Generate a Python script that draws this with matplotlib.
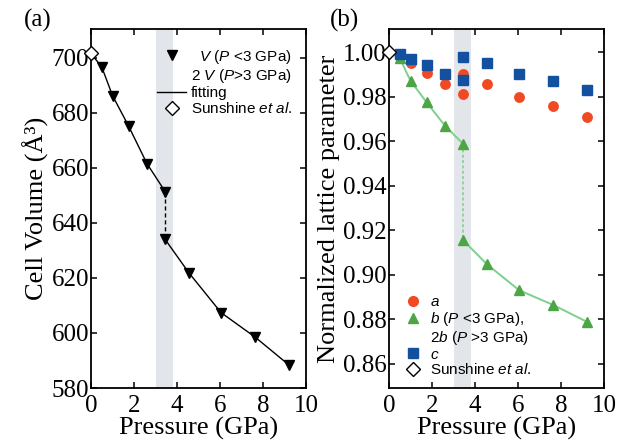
import matplotlib
matplotlib.use("Agg")
import matplotlib.pyplot as plt
from matplotlib.lines import Line2D

# ---------------- data ----------------
P_low = [0.5, 1.0, 1.75, 2.6, 3.45]
P_high = [3.45, 4.55, 6.05, 7.65, 9.2]
V_low = [696.7, 686.3, 675.2, 661.6, 651.4]
V_high = [634.0, 621.9, 607.4, 598.4, 588.4]
sun_P = [0.0]
sun_V = [701.6]
sun_norm = [1.0]

P_all = [0.5, 1.0, 1.75, 2.6, 3.45, 3.45, 4.55, 6.05, 7.65, 9.2]
a_norm = [0.9985, 0.9954, 0.9905, 0.9857, 0.9813, 0.9902, 0.9857, 0.9797, 0.9757, 0.9711]
c_norm = [0.9992, 0.9972, 0.9943, 0.9902, 0.9875, 0.9981, 0.9950, 0.9902, 0.9869, 0.9830]
b_low = [0.9974, 0.9872, 0.9775, 0.9670, 0.9588]
b_high = [0.9155, 0.9047, 0.8930, 0.8863, 0.8788]

band = (3.0, 3.8)
xticks = [0, 2, 4, 6, 8, 10]
yticks_a = [580, 600, 620, 640, 660, 680, 700]
yticks_b = [0.86, 0.88, 0.90, 0.92, 0.94, 0.96, 0.98, 1.00]

# ---------------- style ----------------
plt.rcParams['font.family'] = ['Liberation Serif', 'DejaVu Serif']
plt.rcParams['mathtext.fontset'] = 'custom'
plt.rcParams['mathtext.rm'] = 'Liberation Sans'
plt.rcParams['mathtext.it'] = 'Liberation Sans:italic'
plt.rcParams['mathtext.bf'] = 'Liberation Sans:bold'

RED = '#f04a25'
BLUE = '#1450a0'
GREEN = '#4ca645'
GREEN_LINE = '#7fcf8f'
BAND = '#e2e5e9'

fig = plt.figure(figsize=(6.18, 4.45), dpi=100)
axA = fig.add_axes([91/618, 1-388/445, 215/618, 359/445])
axB = fig.add_axes([389/618, 1-388/445, 215/618, 359/445])

def style(ax):
    for s in ax.spines.values():
        s.set_linewidth(1.3)
    ax.tick_params(direction='in', length=4.5, width=1.1, top=True, right=True,
                   labelsize=18)
    ax.tick_params(axis='x', pad=5)
    ax.tick_params(axis='y', pad=1.5)
    ax.set_xlim(0, 10)
    ax.set_xticks(xticks)
    ax.set_xlabel('Pressure (GPa)', fontsize=19, labelpad=0)

# ---- panel (a) ----
ax = axA
style(ax)
ax.axvspan(*band, color=BAND, lw=0, zorder=0)
ax.plot(sun_P + P_low, sun_V + V_low, '-', color='black', lw=1.0, zorder=2)
ax.plot(P_high, V_high, '-', color='black', lw=1.0, zorder=2)
ax.plot([P_low[-1], P_high[0]], [V_low[-1], V_high[0]], '--', color='black', lw=1.0,
        dashes=(3, 2), zorder=2)
ax.plot(P_low + P_high, V_low + V_high, 'v', color='black', ms=7.5, zorder=3,
        linestyle='none')
ax.plot(sun_P, sun_V, 'D', mfc='white', mec='black', mew=1.0, ms=7, zorder=5, clip_on=False)
ax.set_ylim(580, 710.5)
ax.set_yticks(yticks_a)
ax.set_ylabel('Cell Volume (Å³)', fontsize=19, labelpad=2)
fig.text(24/618, 1-20/445, '(a)', fontsize=18, ha='left', va='center')

hA = [Line2D([], [], marker='v', color='black', ls='none', ms=7.5),
      Line2D([], [], ls='none'),
      Line2D([], [], color='black', lw=1.0),
      Line2D([], [], marker='D', mfc='white', mec='black', ls='none', ms=7)]
lA = [r'  $\it{V}$ ($\it{P}$ <3 GPa)', r'2 $\it{V}$ ($\it{P}$>3 GPa)', 'fitting',
      r'Sunshine $\it{et}$ $\it{al.}$']
ax.legend(hA, lA, loc='upper left', bbox_to_anchor=(0.28, 0.965), frameon=False,
          prop={'family': 'Liberation Sans', 'size': 11}, handlelength=1.9,
          handletextpad=0.3, labelspacing=0.08, borderaxespad=0.0)

# ---- panel (b) ----
ax = axB
style(ax)
ax.axvspan(*band, color=BAND, lw=0, zorder=0)
ax.plot(sun_P + P_low, sun_norm + b_low, '-', color=GREEN_LINE, lw=1.4, zorder=2)
ax.plot(P_high, b_high, '-', color=GREEN_LINE, lw=1.4, zorder=2)
ax.plot([P_low[-1], P_high[0]], [b_low[-1], b_high[0]], '--', color=GREEN_LINE, lw=1.1,
        dashes=(2, 1.5), zorder=2)
ax.plot(P_all, a_norm, 'o', color=RED, ms=6.8, ls='none', zorder=3)
ax.plot(P_low + P_high, b_low + b_high, '^', color=GREEN, ms=7, ls='none', zorder=4)
ax.plot(P_all, c_norm, 's', color=BLUE, ms=6.5, ls='none', zorder=5)
ax.plot(sun_P, sun_norm, 'D', mfc='white', mec='black', mew=1.0, ms=7, zorder=6, clip_on=False)
ax.set_ylim(0.849, 1.0105)
ax.set_yticks(yticks_b)
ax.set_yticklabels([f'{v:.2f}' for v in yticks_b])
ax.set_ylabel('Normalized lattice parameter', fontsize=19, labelpad=2)
fig.text(330/618, 1-20/445, '(b)', fontsize=18, ha='left', va='center')

hB = [Line2D([], [], marker='o', color=RED, ls='none', ms=7),
      Line2D([], [], marker='^', color=GREEN, ls='none', ms=7.5),
      Line2D([], [], ls='none'),
      Line2D([], [], marker='s', color=BLUE, ls='none', ms=7),
      Line2D([], [], marker='D', mfc='white', mec='black', ls='none', ms=7)]
lB = [r'$\it{a}$', r'$\it{b}$ ($\it{P}$ <3 GPa),', r'2$\it{b}$ ($\it{P}$ >3 GPa)', r'$\it{c}$',
      r'Sunshine $\it{et}$ $\it{al.}$']
ax.legend(hB, lB, loc='lower left', bbox_to_anchor=(0.02, 0.0), frameon=False,
          prop={'family': 'Liberation Sans', 'size': 11}, handlelength=1.2,
          handletextpad=0.5, labelspacing=0.05, borderaxespad=0.3)

fig.savefig('out.png', dpi=100)
